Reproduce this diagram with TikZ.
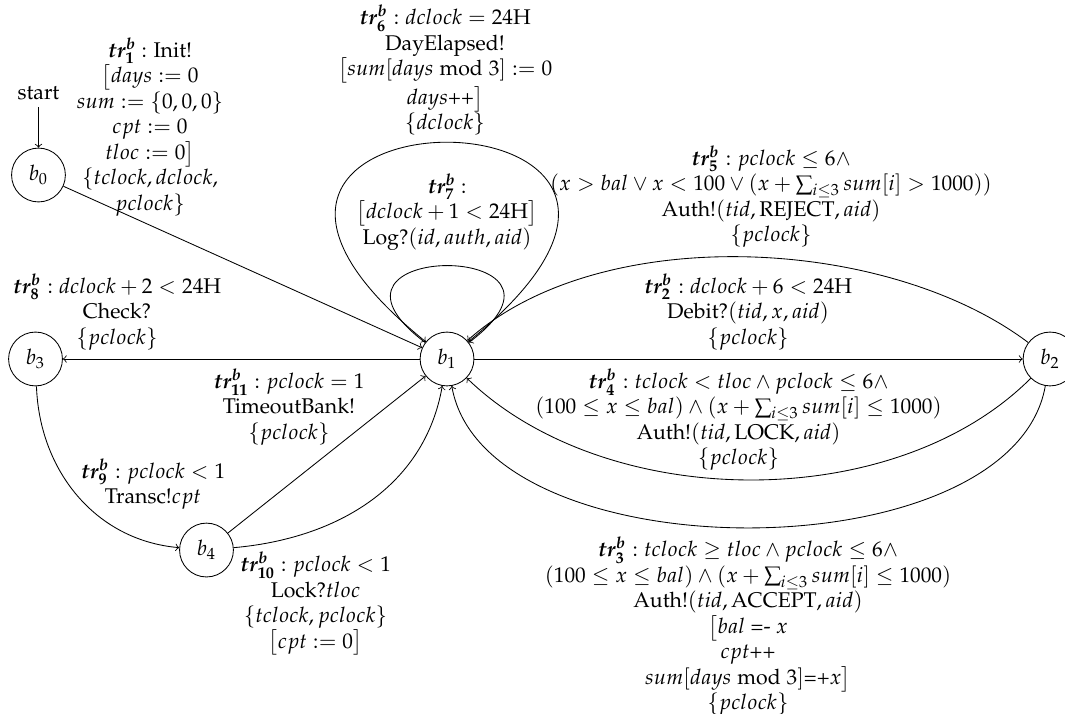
\documentclass[tikz,border=0pt]{standalone}
\usepackage[T1]{fontenc}
\usepackage{mathpazo}
\usepackage{amsmath}
\usepackage{amssymb}
\usepackage{tikz}

\tikzset{
	loc/.style={draw, circle, minimum size=0.89cm, inner sep=0pt},
	lbl/.style={align=center, inner sep=0pt}
}
\newcommand{\trb}[1]{\boldsymbol{tr^b_{#1}}}

\begin{document}
\begin{tikzpicture}
		\useasboundingbox (0,0) rectangle (17.604,-11.802);
		% locations
		\node[loc] (b0) at (0.636,-2.893) {$b_0$};
		\node[loc] (b1) at (7.389,-5.934) {$b_1$};
		\node[loc] (b2) at (17.357,-5.934) {$b_2$};
		\node[loc] (b3) at (0.587,-5.934) {$b_3$};
		\node[loc] (b4) at (3.413,-9.092) {$b_4$};
		\node (start) at (0.636,-1.54) {start};
		% transitions
		\draw[->] (start) -- (b0);
		\draw[->] (b0) -- (b1);
		\draw[->] (b1) to[out=39,in=141,looseness=25.5] (b1);
		\draw[->] (b1) to[out=143,in=37,looseness=10] (b1);
		\draw[->] (b1) -- (b2);
		\draw[->] (b2) to[out=143,in=42,looseness=0.81] (b1);
		\draw[->] (b2) to[out=-135,in=-44,looseness=0.88] (b1);
		\draw[->] (b2) to[out=-100,in=-80,looseness=0.83] (b1);
		\draw[->] (b1) -- (b3);
		\draw[->] (b3) to[out=-88,in=175] (b4);
		\draw[->] (b4) -- (b1);
		\draw[->] (b4) to[out=5,in=-100] (b1);
		% labels
		\node[lbl] (l1) at (2.480,-2.099) {$\trb{1}$ : Init!\\ $\bigl[days := 0$\\ $sum := \{0,0,0\}$\\ $cpt := 0$\\ $tloc := 0\bigr]$\\ $\{tclock, dclock,$\\ $pclock\}$};
		\node[lbl] (l6) at (7.356,-1.16) {$\trb{6} : dclock = 24\mathrm{H}$\\ DayElapsed!\\ $\bigl[sum[days \bmod 3] := 0$\\ $days$++$\bigr]$\\ $\{dclock\}$};
		\node[lbl] (l7) at (7.389,-3.504) {$\trb{7}$ :\\ $\bigl[dclock + 1 < 24\mathrm{H}\bigr]$\\ Log?$(id, auth, aid)$};
		\node[lbl] (l5) at (12.745,-3.248) {$\trb{5} : pclock \leq 6\wedge$\\ $(x > bal \vee x < 100 \vee (x + \sum_{i\leq 3} sum[i] > 1000))$\\ Auth!$(tid, \mathrm{REJECT}, aid)$\\ $\{pclock\}$};
		\node[lbl] (l2) at (12.365,-5.157) {$\trb{2} : dclock + 6 < 24\mathrm{H}$\\ Debit?$(tid, x, aid)$\\ $\{pclock\}$};
		\node[lbl] (l4) at (12.207,-6.94) {$\trb{4} : tclock < tloc \wedge pclock \leq 6\wedge$\\ $(100 \leq x \leq bal) \wedge (x + \sum_{i\leq 3} sum[i] \leq 1000)$\\ Auth!$(tid, \mathrm{LOCK}, aid)$\\ $\{pclock\}$};
		\node[lbl] (l3) at (12.364,-10.356) {$\trb{3} : tclock \geq tloc \wedge pclock \leq 6\wedge$\\ $(100 \leq x \leq bal) \wedge (x + \sum_{i\leq 3} sum[i] \leq 1000)$\\ Auth!$(tid, \mathrm{ACCEPT}, aid)$\\ $\bigl[bal$ =- $x$\\ $cpt$++\\ $sum[days \bmod 3]$=+$x\bigr]$\\ $\{pclock\}$};
		\node[lbl] (l8) at (1.934,-5.157) {$\trb{8} : dclock + 2 < 24\mathrm{H}$\\ Check?\\ $\{pclock\}$};
		\node[lbl] (l11) at (4.777,-6.728) {$\trb{11} : pclock = 1$\\ TimeoutBank!\\ $\{pclock\}$};
		\node[lbl] (l9) at (2.529,-8.001) {$\trb{9} : pclock < 1$\\ Transc!$cpt$};
		\node[lbl] (l10) at (5.215,-9.984) {$\trb{10} : pclock < 1$\\ Lock?$tloc$\\ $\{tclock, pclock\}$\\ $\bigl[cpt := 0\bigr]$};
	\end{tikzpicture}
\end{document}
